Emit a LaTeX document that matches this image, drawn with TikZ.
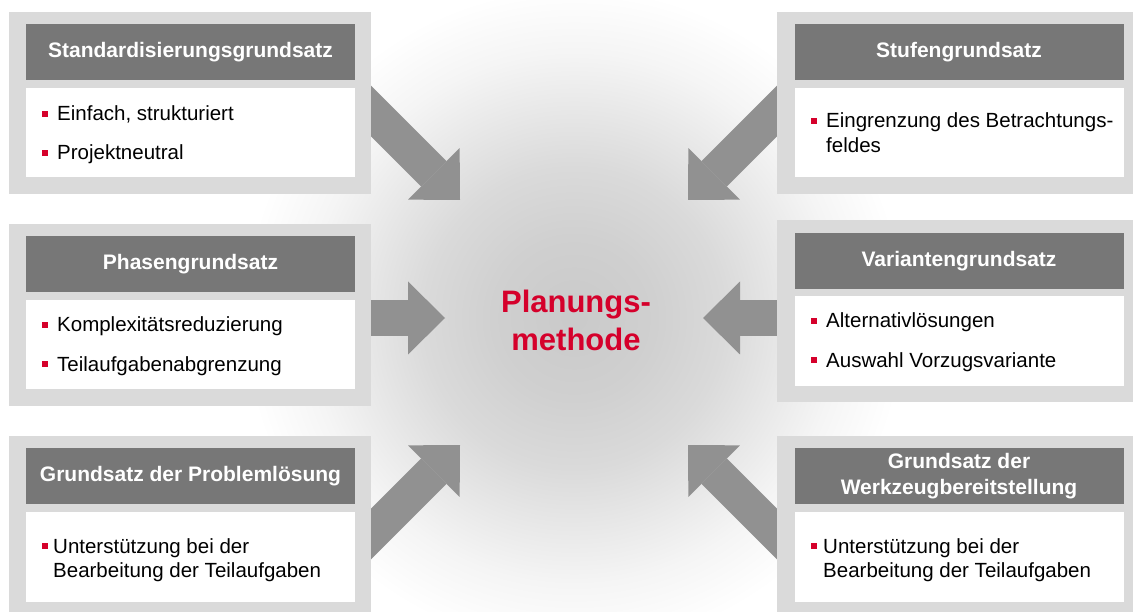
\documentclass[tikz,border=0pt]{standalone}
\usepackage{fontspec}
\setmainfont{Liberation Sans}
\usetikzlibrary{arrows.meta}

\definecolor{framegray}{RGB}{218,218,218}
\definecolor{headgray}{RGB}{119,119,119}
\definecolor{arrowgray}{RGB}{145,145,145}
\definecolor{planred}{RGB}{213,0,43}

% used at its natural size, radius 330bp
\pgfdeclareradialshading{glow}{\pgfpointorigin}{color(0bp)=(gray!42); color(80bp)=(gray!37); color(150bp)=(gray!29); color(210bp)=(gray!18); color(265bp)=(gray!8); color(330bp)=(white)}

\newcommand{\sqbul}[1][9pt]{\textcolor{planred}{\rule[4.3pt]{6pt}{6pt}}\hspace{#1}}

\tikzset{
  outerbox/.style={fill=framegray, inner sep=0, outer sep=0, minimum height=182pt},
  headbox/.style={fill=headgray, text=white, font=\fontsize{21}{26}\selectfont\bfseries,
    align=center, inner sep=0, outer sep=0, minimum width=329pt, minimum height=56pt},
  bodybox/.style={fill=white, inner sep=0, outer sep=0, minimum width=329pt},
  item/.style={anchor=base west, inner sep=0, font=\fontsize{20.5}{25}\selectfont},
  bigarrow/.style={draw=arrowgray, line width=36pt,
    -{Triangle[length=37pt, width=73pt, line width=0pt]}}
}

\begin{document}
\begin{tikzpicture}[x=1pt,y=-1pt]
\useasboundingbox (0,0) rectangle (1133,612);
\clip (0,0) rectangle (1133,612);

\node[inner sep=0] (glowspot) at (574,318) {\pgfuseshading{glow}};

% arrow tips and the points inside the boxes they come from
\coordinate (tl) at (460,200);  \coordinate (tls) at (340,80);
\coordinate (tr) at (688,200);  \coordinate (trs) at (808,80);
\coordinate (ml) at (445,318);  \coordinate (mls) at (360,318);
\coordinate (mr) at (703,318);  \coordinate (mrs) at (790,318);
\coordinate (bl) at (460,445);  \coordinate (bls) at (340,565);
\coordinate (br) at (688,445);  \coordinate (brs) at (808,565);

\foreach \s/\t in {tls/tl, trs/tr, mls/ml, mrs/mr, bls/bl, brs/br}
  \draw[bigarrow] (\s) -- (\t);

\node[font=\fontsize{31}{38}\selectfont\bfseries, text=planred, align=center] (plan) at (576,320) {Planungs-\\methode};

% left column
\node[outerbox, minimum width=362pt] (std) at (190,103) {};
\node[headbox] (stdhead) at (190.5,52) {Standardisierungsgrundsatz};
\node[bodybox, minimum height=89pt] (stdbody) at (190.5,132.5) {};
\node[item] (std1) at (42,121) {\sqbul Einfach, strukturiert};
\node[item] (std2) at (42,160) {\sqbul Projektneutral};

\node[outerbox, minimum width=362pt] (pha) at (190,315) {};
\node[headbox] (phahead) at (190.5,264) {Phasengrundsatz};
\node[bodybox, minimum height=89pt] (phabody) at (190.5,344.5) {};
\node[item] (pha1) at (42,332) {\sqbul Komplexitätsreduzierung};
\node[item] (pha2) at (42,371) {\sqbul Teilaufgabenabgrenzung};

\node[outerbox, minimum width=362pt] (prob) at (190,527) {};
\node[headbox] (probhead) at (190.5,476) {Grundsatz der Problemlösung};
\node[bodybox, minimum height=90pt] (probbody) at (190.5,557) {};
\node[item] (prob1) at (42,553) {\sqbul[5pt]Unterstützung bei der};
\node[item] (prob2) at (53,577) {Bearbeitung der Teilaufgaben};

% right column
\node[outerbox, minimum width=363pt] (stu) at (958.5,103) {};
\node[headbox] (stuhead) at (959,52) {Stufengrundsatz};
\node[bodybox, minimum height=89pt] (stubody) at (959,132.5) {};
\node[item] (stu1) at (811,128) {\sqbul Eingrenzung des Betrachtungs-};
\node[item] (stu2) at (826,153) {feldes};

\node[outerbox, minimum width=363pt] (var) at (958.5,311) {};
\node[headbox] (varhead) at (959,261) {Variantengrundsatz};
\node[bodybox, minimum height=90pt] (varbody) at (959,341) {};
\node[item] (var1) at (811,328) {\sqbul Alternativlösungen};
\node[item] (var2) at (811,367) {\sqbul Auswahl Vorzugsvariante};

\node[outerbox, minimum width=363pt] (wzg) at (958.5,527) {};
\node[headbox] (wzghead) at (959,476) {Grundsatz der\\Werkzeugbereitstellung};
\node[bodybox, minimum height=90pt] (wzgbody) at (959,557) {};
\node[item] (wzg1) at (811,553) {\sqbul[6pt]Unterstützung bei der};
\node[item] (wzg2) at (823,577) {Bearbeitung der Teilaufgaben};

\end{tikzpicture}
\end{document}
